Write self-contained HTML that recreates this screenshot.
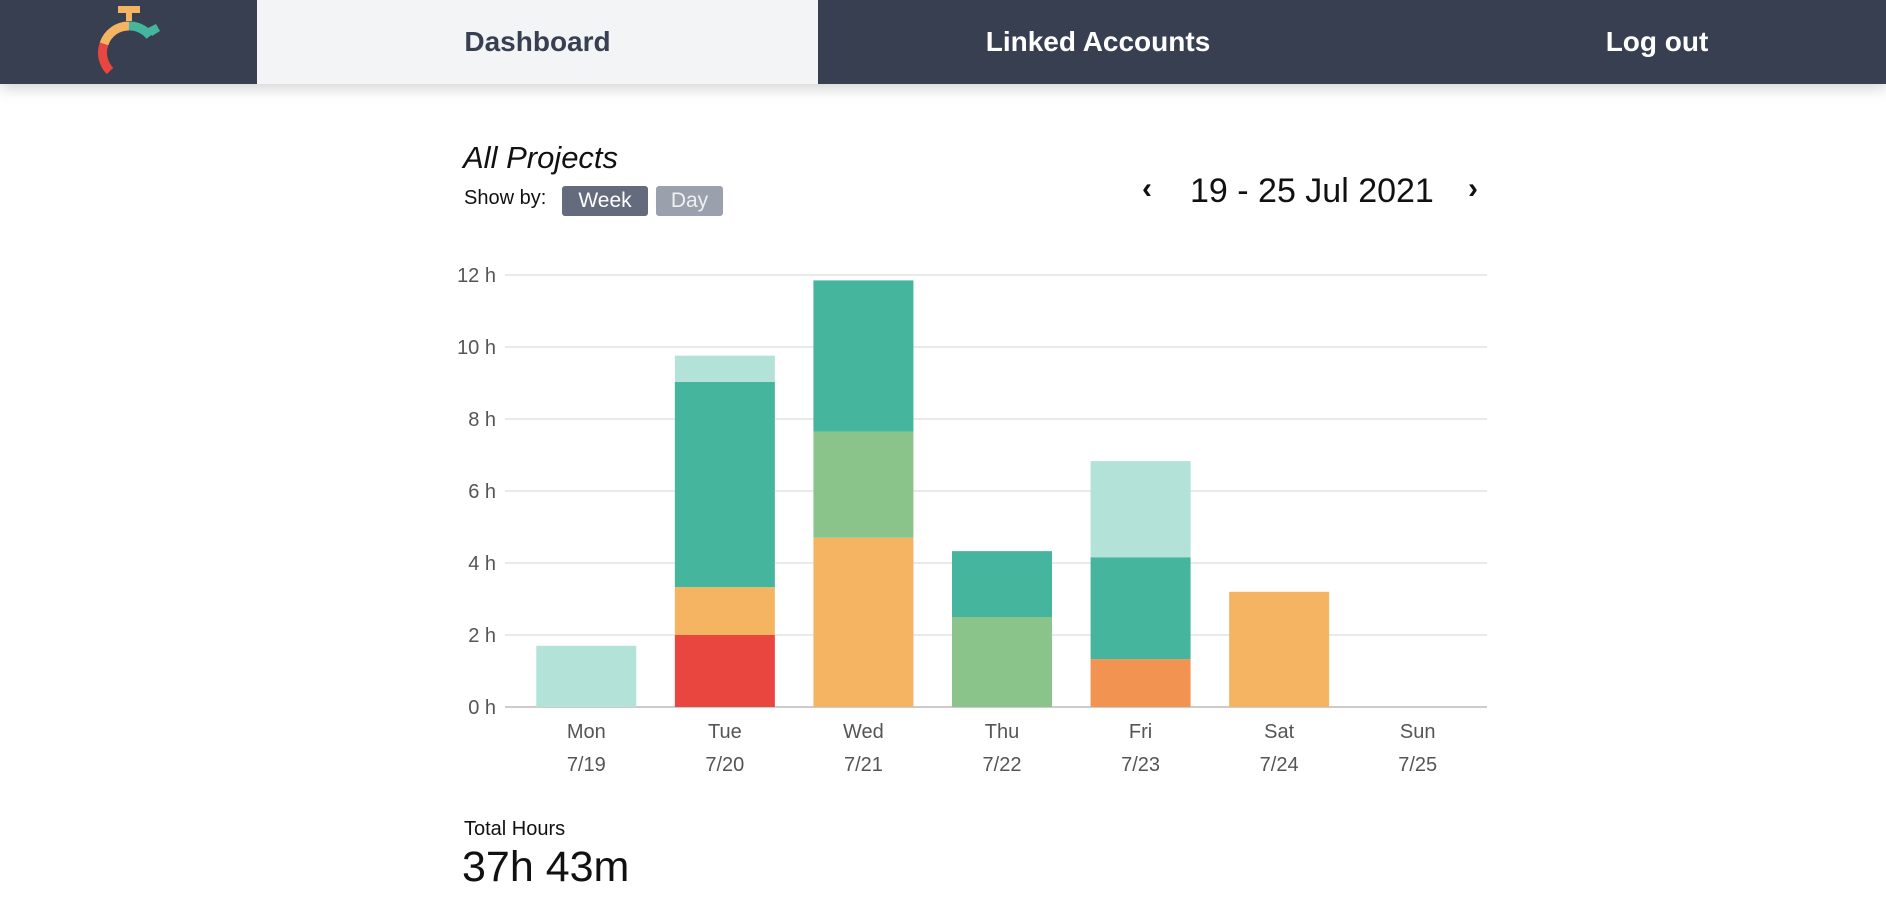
<!DOCTYPE html>
<html><head><meta charset="utf-8"><style>
body{margin:0;width:1886px;height:898px;background:#fff;font-family:"Liberation Sans",sans-serif;overflow:hidden;position:relative}
.hdr{position:absolute;left:0;top:0;width:1886px;height:84px;background:#373f51;box-shadow:0 4px 14px rgba(0,0,0,0.18);overflow:hidden}
.tab{position:absolute;top:0;height:84px;line-height:84px;text-align:center;color:#fff;font-size:28px;font-weight:bold}
.t{position:absolute;color:#111}
.btn{position:absolute;top:186px;height:30px;line-height:29px;color:#fff;font-size:21px;text-align:center;border-radius:3px}
</style></head><body>
<div class="hdr">
 <svg style="position:absolute;left:90px;top:4px" width="80" height="76" viewBox="0 0 80 76">
  <rect x="28" y="2" width="22" height="7" fill="#f4b462"/><rect x="36" y="8" width="6" height="9" fill="#f4b462"/>
  <path d="M39 22 A26 26 0 0 0 14 40" stroke="#f4b462" stroke-width="9" fill="none"/>
  <path d="M14 40 A26 26 0 0 0 20 67" stroke="#e8463f" stroke-width="9" fill="none"/>
  <path d="M39 22 A26 26 0 0 1 60 32" stroke="#45b59d" stroke-width="9" fill="none"/>
  <path d="M58 24 L66 20 L70 27 L62 32 Z" fill="#45b59d"/>
 </svg>
 <div class="tab" style="left:257px;width:561px;background:#f3f4f6;color:#373f51">Dashboard</div>
 <div class="tab" style="left:818px;width:560px">Linked Accounts</div>
 <div class="tab" style="left:1378px;width:558px">Log out</div>
</div>
<div class="t" style="left:463px;top:140px;font-size:31px;font-style:italic;font-weight:300">All Projects</div>
<div class="t" style="left:464px;top:187px;font-size:20px">Show by:</div>
<div class="btn" style="left:562px;width:86px;background:#646b7c">Week</div>
<div class="btn" style="left:656px;width:67px;background:#9aa1ad;color:#eef0f3">Day</div>
<div class="t" style="left:1142px;top:172px;font-size:30px;font-weight:bold">‹</div>
<div class="t" style="left:1190px;top:172px;font-size:34px;font-weight:300">19 - 25 Jul 2021</div>
<div class="t" style="left:1468px;top:172px;font-size:30px;font-weight:bold">›</div>
<svg id="chart" style="position:absolute;left:0;top:0" width="1886" height="800"></svg>
<div class="t" style="left:464px;top:818px;font-size:20px">Total Hours</div>
<div class="t" style="left:462px;top:843px;font-size:43px;font-weight:300">37h 43m</div>
<script>
const days=["Mon","Tue","Wed","Thu","Fri","Sat","Sun"];
const dates=["7/19","7/20","7/21","7/22","7/23","7/24","7/25"];
const yTicks=[0,2,4,6,8,10,12];
const seriesNames=["red","orange","darkorange","green","teal","lightteal"];
const seriesColors=["#e8463f","#f4b462","#f29352","#8bc48a","#45b59d","#b2e2d8"];
const red=[0,2.0,0,0,0,0,0];
const orange=[0,1.33,4.7,0,0,3.2,0];
const darkorange=[0,0,0,0,1.33,0,0];
const green=[0,0,2.95,2.5,0,0,0];
const teal=[0,5.7,4.2,1.83,2.83,0,0];
const lightteal=[1.7,0.73,0,0,2.67,0,0];
const series=[red,orange,darkorange,green,teal,lightteal];
const NS="http://www.w3.org/2000/svg",svg=document.getElementById('chart');
const x0=517,x1=1487,y0=707,yTop=275,yMax=12;
const y=v=>y0-(v/yMax)*(y0-yTop);
const slot=(x1-x0)/days.length;
const xc=i=>x0+slot*(i+0.5);
function mk(t,a){const e=document.createElementNS(NS,t);for(const k in a)e.setAttribute(k,a[k]);svg.appendChild(e);return e;}
yTicks.forEach(v=>{
 const l=mk('line',{x1:x0-12,x2:x1,y1:y(v),y2:y(v),stroke:v===0?'#ccc':'#e3e3e3','stroke-width':v===0?2:1.5});
 
 
 const t=mk('text',{x:496,y:y(v)+7,'text-anchor':'end','font-size':20,fill:'#555','font-family':'Liberation Sans'});
 t.textContent=v+' h';
 
 
});
days.forEach((d,i)=>{
 let acc=0;
 series.forEach((s,k)=>{
  if(s[i]>0){
   const r=mk('rect',{x:xc(i)-50,width:100,y:y(acc+s[i]),height:y(acc)-y(acc+s[i]),fill:seriesColors[k]});
   
   
  }
  acc+=s[i];
 });
 const t=mk('text',{x:xc(i),y:738,'text-anchor':'middle','font-size':20,fill:'#555','font-family':'Liberation Sans'});
 t.textContent=d;
 
 
 const t2=mk('text',{x:xc(i),y:771,'text-anchor':'middle','font-size':20,fill:'#555','font-family':'Liberation Sans'});
 t2.textContent=dates[i];
 
 
});
</script>
</body></html>
